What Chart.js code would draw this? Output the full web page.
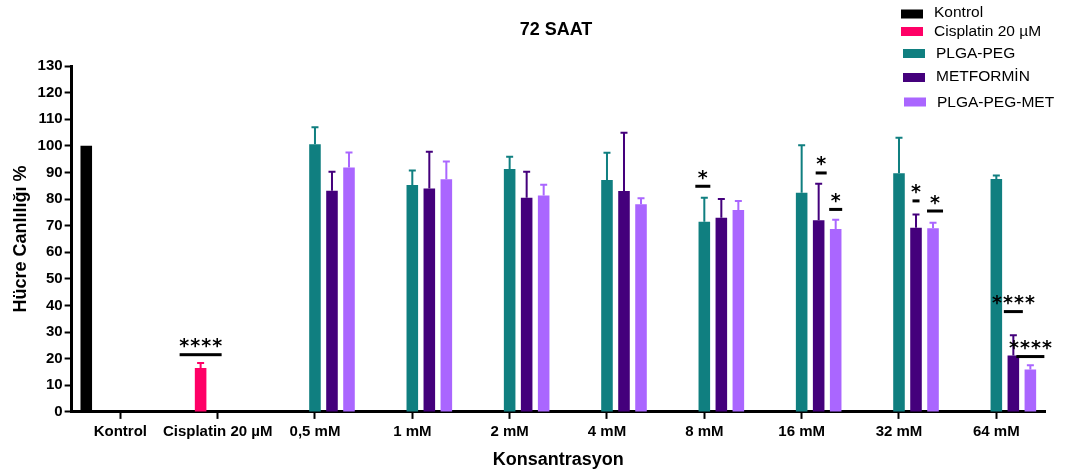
<!DOCTYPE html>
<html>
<head>
<meta charset="utf-8">
<script src="https://cdn.jsdelivr.net/npm/chart.js@4/dist/chart.umd.min.js"></script>
<style>
  html, body { margin: 0; padding: 0; background: #fff; }
  #wrap { width: 1077px; height: 474px; }
</style>
</head>
<body>
<div id="wrap"><canvas id="c" width="1077" height="474"></canvas></div>
<script>
// Concentration groups on the x axis
const categories = ['Kontrol', 'Cisplatin 20 µM', '0,5 mM', '1 mM', '2 mM', '4 mM', '8 mM', '16 mM', '32 mM', '64 mM'];

// Mean cell viability (%) per treatment
const kontrol    = [100, null, null, null, null, null, null, null, null, null];
const cisplatin  = [null, 16.5, null, null, null, null, null, null, null, null];
const plgaPeg    = [null, null, 100.6, 85.3, 91.3, 87.2, 71.5, 82.4, 89.7, 87.5];
const metformin  = [null, null, 83.1, 84.0, 80.5, 83.0, 73.0, 72.0, 69.2, 21.2];
const plgaPegMet = [null, null, 91.9, 87.4, 81.3, 78.0, 75.9, 68.7, 69.0, 15.9];

// Standard deviations (upper error bars)
const kontrolSd    = [0, null, null, null, null, null, null, null, null, null];
const cisplatinSd  = [null, 1.9, null, null, null, null, null, null, null, null];
const plgaPegSd    = [null, null, 6.4, 5.4, 4.6, 10.2, 9.0, 17.8, 13.3, 1.3];
const metforminSd  = [null, null, 7.2, 13.8, 9.8, 21.9, 7.0, 13.7, 5.0, 7.6];
const plgaPegMetSd = [null, null, 5.6, 6.7, 4.1, 2.3, 3.4, 3.5, 2.1, 1.6];

// Y axis tick values
const yTicks = [0, 10, 20, 30, 40, 50, 60, 70, 80, 90, 100, 110, 120, 130];

// Significance marks: category, dataset, stars, bar level (in %)
const significance = [
  { cat: 1, ds: 1, stars: '****', level: 21.5, half: 21 },
  { cat: 6, ds: 2, stars: '*',    level: 84.8, half: 7.5, dx: -1.5 },
  { cat: 7, ds: 3, stars: '*',    level: 89.8, half: 5.5, dx: 2.5 },
  { cat: 7, ds: 4, stars: '*',    level: 76.1, half: 6.5 },
  { cat: 8, ds: 3, stars: '*',    level: 79.3, half: 3.5 },
  { cat: 8, ds: 4, stars: '*',    level: 75.5, half: 8, dx: 2 },
  { cat: 9, ds: 3, stars: '****', level: 37.7, half: 9.5 },
  { cat: 9, ds: 4, stars: '****', level: 20.8, half: 14 }
];

const FONT = '"Liberation Sans", Arial, Helvetica, sans-serif';

const colors = ['#000000', '#ff0066', '#107f80', '#44007c', '#aa66ff'];
const labels = ['Kontrol', 'Cisplatin 20 µM', 'PLGA-PEG', 'METFORMİN', 'PLGA-PEG-MET'];
const values = [kontrol, cisplatin, plgaPeg, metformin, plgaPegMet];
const sds = [kontrolSd, cisplatinSd, plgaPegSd, metforminSd, plgaPegMetSd];

const datasets = values.map((v, i) => ({
  label: labels[i],
  data: v,
  sd: sds[i],
  backgroundColor: colors[i],
  borderWidth: 0,
  categoryPercentage: 0.874,
  barPercentage: 0.68
}));

// Upper error bars with caps
const errorBars = {
  id: 'errorBars',
  afterDatasetsDraw(chart) {
    const ctx = chart.ctx;
    const y = chart.scales.y;
    chart.data.datasets.forEach((ds, i) => {
      const meta = chart.getDatasetMeta(i);
      meta.data.forEach((bar, j) => {
        const v = ds.data[j];
        const s = ds.sd[j];
        if (v == null || !s) return;
        const top = y.getPixelForValue(v + s);
        ctx.save();
        ctx.strokeStyle = ds.backgroundColor;
        ctx.lineWidth = 2;
        ctx.beginPath();
        ctx.moveTo(bar.x, bar.y);
        ctx.lineTo(bar.x, top);
        ctx.moveTo(bar.x - 3.5, top);
        ctx.lineTo(bar.x + 3.5, top);
        ctx.stroke();
        ctx.restore();
      });
    });
  }
};

// Significance stars with underline
const stars = {
  id: 'stars',
  afterDraw(chart) {
    const ctx = chart.ctx;
    const y = chart.scales.y;
    ctx.save();
    ctx.font = 'bold 19px "DejaVu Sans", sans-serif';
    ctx.textAlign = 'center';
    ctx.textBaseline = 'alphabetic';
    const gm = ctx.measureText('*');
    const lift = (gm.actualBoundingBoxAscent - gm.actualBoundingBoxDescent) / 2;
    ctx.fillStyle = '#000';
    significance.forEach(m => {
      const bar = chart.getDatasetMeta(m.ds).data[m.cat];
      const cx = bar.x + (m.dx || 0);
      const ly = y.getPixelForValue(m.level);
      ctx.fillRect(cx - m.half, ly - 1.5, m.half * 2, 3);
      const n = m.stars.length;
      const step = 11;
      for (let k = 0; k < n; k++) {
        const sx = cx + (k - (n - 1) / 2) * step;
        ctx.fillText('*', sx, ly - 11.5 + lift);
      }
    });
    ctx.restore();
  }
};

// Title and legend block
const header = {
  id: 'header',
  afterDraw(chart) {
    const ctx = chart.ctx;
    ctx.save();
    ctx.fillStyle = '#000';
    ctx.font = 'bold 18px ' + FONT;
    ctx.textAlign = 'center';
    ctx.textBaseline = 'middle';
    ctx.fillText('72 SAAT', 556, 30);

    const rows = [
      { bx: 901, by: 14, tx: 934, ty: 13 },
      { bx: 901, by: 31.5, tx: 934, ty: 32 },
      { bx: 903, by: 53.5, tx: 936, ty: 54 },
      { bx: 903, by: 77.5, tx: 936, ty: 77 },
      { bx: 904, by: 102, tx: 937, ty: 103 }
    ];
    ctx.font = '15.5px ' + FONT;
    ctx.textAlign = 'left';
    chart.data.datasets.forEach((ds, i) => {
      const r = rows[i];
      ctx.fillStyle = ds.backgroundColor;
      ctx.fillRect(r.bx, r.by - 4.5, 22, 9);
      ctx.fillStyle = '#000';
      ctx.fillText(ds.label, r.tx, r.ty);
    });
    ctx.restore();
  }
};

new Chart(document.getElementById('c'), {
  type: 'bar',
  data: { labels: categories, datasets },
  options: {
    responsive: false,
    animation: false,
    devicePixelRatio: 1,
    layout: { padding: { left: 6, top: 66, right: 32, bottom: 3.5 } },
    plugins: {
      legend: { display: false },
      title: { display: false },
      tooltip: { enabled: false }
    },
    scales: {
      x: {
        grid: {
          offset: false,
          drawOnChartArea: false,
          drawTicks: true,
          tickLength: 7,
          tickWidth: 2,
          tickColor: '#000'
        },
        border: { display: true, color: '#000', width: 3 },
        ticks: {
          color: '#000',
          padding: 4,
          maxRotation: 0,
          autoSkip: false,
          font: { family: FONT, size: 15, weight: 'bold' }
        },
        title: {
          display: true,
          text: 'Konsantrasyon',
          color: '#000',
          padding: { top: 4, bottom: 0 },
          font: { family: FONT, size: 18, weight: 'bold' }
        }
      },
      y: {
        min: 0,
        max: 130,
        afterBuildTicks(scale) { scale.ticks = yTicks.map(v => ({ value: v })); },
        grid: {
          drawOnChartArea: false,
          drawTicks: true,
          tickLength: 7,
          tickWidth: 2,
          tickColor: '#000'
        },
        border: { display: true, color: '#000', width: 3 },
        ticks: {
          color: '#000',
          padding: 2,
          font: { family: FONT, size: 15, weight: 'bold' }
        },
        title: {
          display: true,
          text: 'Hücre Canlılığı %',
          color: '#000',
          padding: { top: 4, bottom: 4 },
          font: { family: FONT, size: 18, weight: 'bold' }
        }
      }
    }
  },
  plugins: [errorBars, stars, header]
});
</script>
</body>
</html>
